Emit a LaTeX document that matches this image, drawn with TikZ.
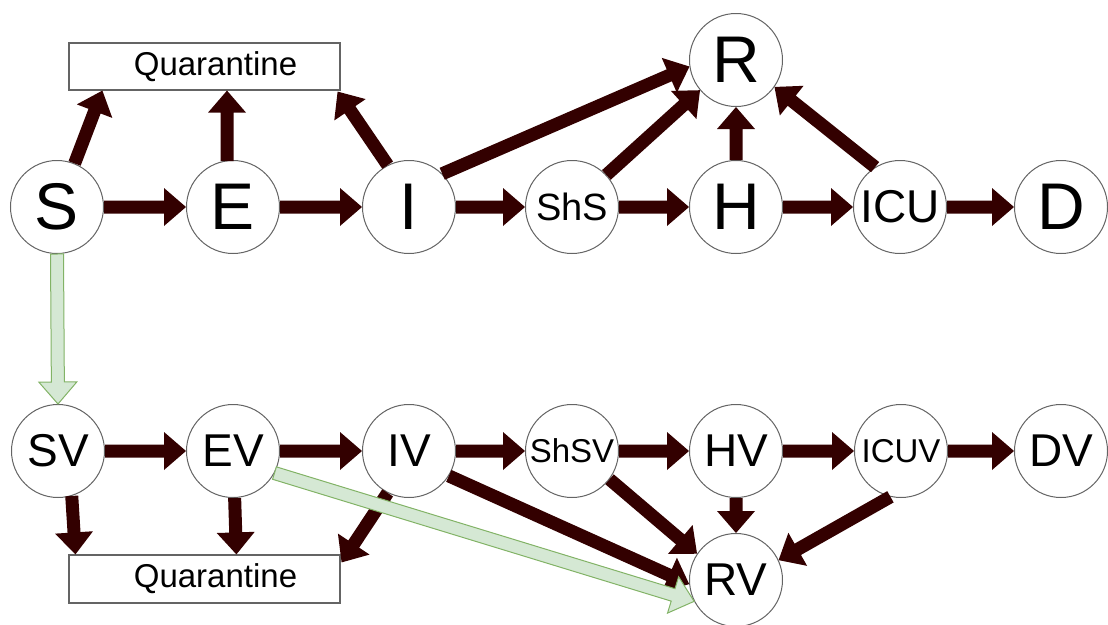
\documentclass[tikz,border=0pt]{standalone}
\usepackage{fontspec}
\setmainfont{Liberation Sans}
\usetikzlibrary{calc}
\definecolor{darkc}{RGB}{51,0,0}
\definecolor{gfill}{RGB}{213,232,212}
\definecolor{gline}{RGB}{130,179,102}
\definecolor{cline}{RGB}{100,100,100}
\newcommand\blockarrow[3]{%
  \coordinate (ba-h) at ($(#3)!22pt!(#2)$);
  \path[#1] ($(#2)!6.5pt!90:(#3)$) -- ($(ba-h)!6.5pt!-90:(#2)$) -- ($(ba-h)!19pt!-90:(#2)$)
    -- (#3) -- ($(ba-h)!19pt!90:(#2)$) -- ($(ba-h)!6.5pt!90:(#2)$) -- ($(#2)!6.5pt!-90:(#3)$) -- cycle;}
\tikzset{
  circ/.style={circle, draw=cline, line width=1pt, fill=white, minimum size=93pt, inner sep=0pt},
  big/.style={font=\fontsize{66}{66}\selectfont},
  mid/.style={font=\fontsize{46}{46}\selectfont},
  sml/.style={font=\fontsize{38}{38}\selectfont},
  tiny/.style={font=\fontsize{33}{33}\selectfont},
  qbox/.style={draw=cline, line width=1.2pt, fill=white, minimum width=271pt, minimum height=47pt, inner sep=0pt, font=\fontsize{33}{33}\selectfont},
  darr/.style={fill=darkc},
  garr/.style={fill=gfill, draw=gline, line width=1pt, line join=miter},
}
\begin{document}
\begin{tikzpicture}[x=1pt, y=-1pt]
\useasboundingbox (0,0) rectangle (1108,624);
% top row
\node[circ, big] (S) at (57,207) {S};
\node[circ, big] (E) at (233,207) {E};
\node[circ, big] (I) at (409,207) {I};
\node[circ, sml] (ShS) at (572,207) {ShS};
\node[circ, big] (H) at (736,207) {H};
\node[circ, mid] (ICU) at (900,207) {ICU};
\node[circ, big] (D) at (1061,207) {D};
\node[circ, big] (R) at (736,60) {R};
\node[qbox] (Q) at (204.5,66.5) {\hspace*{22pt}Quarantine};
% bottom row
\node[circ, mid] (SV) at (58,451) {SV};
\node[circ, mid] (EV) at (233,451) {EV};
\node[circ, mid] (IV) at (409,451) {IV};
\node[circ, tiny] (ShSV) at (572,451) {ShSV};
\node[circ, mid] (HV) at (736,451) {HV};
\node[circ, tiny] (ICUV) at (901,451) {ICUV};
\node[circ, mid] (DV) at (1061,451) {DV};
\node[circ, mid] (RV) at (736,580) {RV};
\node[qbox, minimum height=48pt] (Q2) at (204.5,579) {\hspace*{22pt}Quarantine};
% helper coordinates
\coordinate (qa) at ($(Q.south west)+(34,0)$);
\coordinate (e1) at ($(E.north)+(-6,1)$);
\coordinate (qe) at (e1 |- Q.south);
\coordinate (qi) at ($(Q.south east)+(-3,1)$);
\coordinate (q1) at ($(Q2.north west)+(7,0)$);
\coordinate (q2) at ($(Q2.north west)+(168,0)$);
\coordinate (q3) at ($(Q2.north east)+(1,8)$);
% top arrows
\blockarrow{darr}{S.east}{E.west}
\blockarrow{darr}{E.east}{I.west}
\blockarrow{darr}{I.east}{ShS.west}
\blockarrow{darr}{ShS.east}{H.west}
\blockarrow{darr}{H.east}{ICU.west}
\blockarrow{darr}{ICU.east}{D.west}
\blockarrow{darr}{S.68}{qa}
\blockarrow{darr}{e1}{qe}
\blockarrow{darr}{I.117}{qi}
\blockarrow{darr}{I.45}{R.188}
\blockarrow{darr}{ShS.43}{R.220}
\blockarrow{darr}{H.north}{R.south}
\blockarrow{darr}{ICU.122}{R.-35}
% bottom arrows
\blockarrow{darr}{SV.east}{EV.west}
\blockarrow{darr}{EV.east}{IV.west}
\blockarrow{darr}{IV.east}{ShSV.west}
\blockarrow{darr}{ShSV.east}{HV.west}
\blockarrow{darr}{HV.east}{ICUV.west}
\blockarrow{darr}{ICUV.east}{DV.west}
\blockarrow{darr}{SV.-73}{q1}
\blockarrow{darr}{EV.-88}{q2}
\blockarrow{darr}{IV.-117}{q3}
\blockarrow{darr}{IV.-32}{RV.185}
\blockarrow{darr}{ShSV.-37}{RV.146}
\blockarrow{darr}{HV.south}{RV.north}
\blockarrow{darr}{ICUV.-103}{RV.25}
% green arrows
\blockarrow{garr}{S.south}{SV.north}
\blockarrow{garr}{EV.-28}{RV.207}
\end{tikzpicture}
\end{document}
